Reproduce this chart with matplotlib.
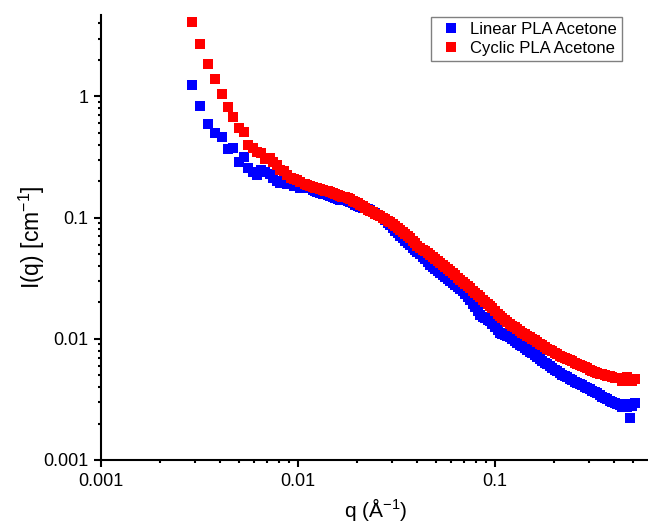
import matplotlib
matplotlib.use("Agg")
import matplotlib.pyplot as plt
from matplotlib.ticker import LogLocator, NullFormatter, FixedLocator, FixedFormatter

plt.rcParams['font.family'] = ['Liberation Sans', 'DejaVu Sans']
plt.rcParams['mathtext.default'] = 'regular'

# scattering vector q (1/Angstrom), shared by both samples
q = [0.002897, 0.003181, 0.003494, 0.003778, 0.004114, 0.004413, 0.004662, 0.005018,
     0.005301, 0.005575, 0.005910, 0.006229, 0.006527, 0.006800, 0.007167, 0.007423,
     0.007797, 0.008103, 0.008442, 0.008795, 0.009162, 0.009489, 0.009884, 0.010237,
     0.01085, 0.01117, 0.01151, 0.01185, 0.01220, 0.01256, 0.01294, 0.01332, 0.01371, 0.01412,
     0.01454, 0.01497, 0.01541, 0.01587, 0.01634, 0.01682, 0.01733, 0.01784, 0.01837, 0.01892,
     0.01947, 0.02005, 0.02065, 0.02126, 0.02189, 0.02254, 0.02321, 0.02390, 0.02460, 0.02533,
     0.02608, 0.02685, 0.02765, 0.02847, 0.02932, 0.03019, 0.03108, 0.03200, 0.03295, 0.03393,
     0.03493, 0.03597, 0.03704, 0.03814, 0.03926, 0.04042, 0.04163, 0.04286, 0.04413, 0.04544,
     0.04679, 0.04818, 0.04960, 0.05107, 0.05259, 0.05415, 0.05575, 0.05740, 0.05911, 0.06086,
     0.06266, 0.06452, 0.06643, 0.06840, 0.07043, 0.07252, 0.07467, 0.07688, 0.07916, 0.08151,
     0.08392, 0.08641, 0.08897, 0.09161, 0.09432, 0.09712, 0.10000, 0.10297, 0.10602, 0.10916,
     0.11240, 0.11573, 0.11916, 0.12269, 0.12633, 0.13008, 0.13394, 0.13791, 0.14200, 0.14621,
     0.15054, 0.15500, 0.15960, 0.16433, 0.16921, 0.17423, 0.17939, 0.18471, 0.19019, 0.19583,
     0.20163, 0.20761, 0.21377, 0.22011, 0.22663, 0.23335, 0.24027, 0.24739, 0.25473, 0.26228,
     0.27006, 0.27807, 0.28631, 0.29480, 0.30354, 0.31254, 0.32181, 0.33135, 0.34117, 0.35129,
     0.36171, 0.37243, 0.38347, 0.39484, 0.40655, 0.41860, 0.43102, 0.44380, 0.45696, 0.47051,
     0.48446, 0.49882, 0.51361]

# I(q) (1/cm), linear PLA in acetone
I_linear = [1.25, 0.838, 0.596, 0.503, 0.460, 0.368, 0.378, 0.286,
            0.319, 0.259, 0.238, 0.223, 0.246, 0.237, 0.229, 0.211,
            0.202, 0.194, 0.199, 0.191, 0.188, 0.184, 0.181, 0.177,
            0.176, 0.175, 0.174, 0.170, 0.167, 0.163, 0.160, 0.158, 0.157, 0.154,
            0.152, 0.148, 0.145, 0.143, 0.141, 0.140, 0.139, 0.137, 0.135, 0.131,
            0.127, 0.124, 0.122, 0.120, 0.119, 0.117, 0.115, 0.112, 0.109, 0.106,
            0.104, 0.0995, 0.0948, 0.0905, 0.0863, 0.0819, 0.0777, 0.0741, 0.0707, 0.0674,
            0.0643, 0.0616, 0.0590, 0.0563, 0.0537, 0.0517, 0.0498, 0.0475, 0.0453, 0.0431,
            0.0410, 0.0392, 0.0375, 0.0361, 0.0347, 0.0334, 0.0322, 0.0311, 0.0300, 0.0289,
            0.0279, 0.0269, 0.0259, 0.0246, 0.0233, 0.0221, 0.0209, 0.0195, 0.0182, 0.0169,
            0.0157, 0.0152, 0.0148, 0.0144, 0.0140, 0.0132, 0.0125, 0.0118, 0.0112, 0.0110,
            0.0108, 0.0106, 0.0104, 0.0100, 0.00966, 0.00930, 0.00896, 0.00866, 0.00838, 0.00810,
            0.00784, 0.00758, 0.00734, 0.00707, 0.00681, 0.00659, 0.00637, 0.00616, 0.00596, 0.00577,
            0.00558, 0.00540, 0.00522, 0.00507, 0.00493, 0.00481, 0.00470, 0.00457, 0.00444, 0.00434,
            0.00424, 0.00412, 0.00400, 0.00391, 0.00382, 0.00373, 0.00364, 0.00354, 0.00344, 0.00334,
            0.00325, 0.00316, 0.00307, 0.00301, 0.00296, 0.00290, 0.00285, 0.00275, 0.00290, 0.00272,
            0.00223, 0.00280, 0.00295]

# I(q) (1/cm), cyclic PLA in acetone
I_cyclic = [4.12, 2.72, 1.86, 1.40, 1.05, 0.823, 0.681, 0.553,
            0.506, 0.400, 0.378, 0.346, 0.344, 0.307, 0.310, 0.290,
            0.273, 0.247, 0.242, 0.225, 0.214, 0.209, 0.204, 0.197,
            0.189, 0.186, 0.182, 0.179, 0.177, 0.175, 0.172, 0.170, 0.167, 0.165,
            0.163, 0.160, 0.157, 0.153, 0.150, 0.149, 0.147, 0.145, 0.142, 0.138,
            0.135, 0.131, 0.128, 0.124, 0.120, 0.116, 0.113, 0.111, 0.108, 0.105,
            0.103, 0.100, 0.0976, 0.0946, 0.0918, 0.0886, 0.0854, 0.0824, 0.0795, 0.0764,
            0.0734, 0.0703, 0.0674, 0.0642, 0.0613, 0.0588, 0.0565, 0.0545, 0.0527, 0.0511,
            0.0495, 0.0476, 0.0457, 0.0438, 0.0420, 0.0404, 0.0389, 0.0376, 0.0363, 0.0348,
            0.0334, 0.0320, 0.0306, 0.0294, 0.0282, 0.0271, 0.0261, 0.0250, 0.0240, 0.0230,
            0.0220, 0.0211, 0.0202, 0.0195, 0.0187, 0.0178, 0.0169, 0.0161, 0.0154, 0.0148,
            0.0143, 0.0137, 0.0132, 0.0128, 0.0124, 0.0120, 0.0116, 0.0112, 0.0109, 0.0106,
            0.0103, 0.0100, 0.00976, 0.00944, 0.00913, 0.00883, 0.00854, 0.00830, 0.00807, 0.00788,
            0.00770, 0.00748, 0.00727, 0.00710, 0.00694, 0.00681, 0.00668, 0.00652, 0.00637, 0.00625,
            0.00613, 0.00599, 0.00585, 0.00571, 0.00558, 0.00547, 0.00537, 0.00527, 0.00517, 0.00510,
            0.00503, 0.00496, 0.00489, 0.00484, 0.00479, 0.00475, 0.00472, 0.00450, 0.00466, 0.00480,
            0.00462, 0.00445, 0.00470]

fig = plt.figure(figsize=(6.48, 5.29), dpi=100)
ax = fig.add_axes([101/648, 1 - 460/529, 546/648, 445/529])

ax.plot(q, I_linear, 's', color='#0000FF', markersize=7.2, markeredgewidth=0,
        label='Linear PLA Acetone')
ax.plot(q, I_cyclic, 's', color='#FF0000', markersize=7.2, markeredgewidth=0,
        label='Cyclic PLA Acetone')

ax.set_xscale('log')
ax.set_yscale('log')
ax.set_xlim(0.001, 0.591)
ax.set_ylim(0.001, 4.7)

ax.xaxis.set_major_locator(FixedLocator([0.001, 0.01, 0.1]))
ax.xaxis.set_major_formatter(FixedFormatter(['0.001', '0.01', '0.1']))
ax.yaxis.set_major_locator(FixedLocator([0.001, 0.01, 0.1, 1]))
ax.yaxis.set_major_formatter(FixedFormatter(['0.001', '0.01', '0.1', '1']))
for axis in (ax.xaxis, ax.yaxis):
    axis.set_minor_locator(LogLocator(base=10, subs=range(2, 10), numticks=20))
    axis.set_minor_formatter(NullFormatter())

ax.spines['top'].set_visible(False)
ax.spines['right'].set_visible(False)
for s in ('left', 'bottom'):
    ax.spines[s].set_linewidth(1.5)

ax.tick_params(which='major', direction='out', length=5, width=1.5,
               labelsize=13, pad=4)
ax.tick_params(which='minor', direction='out', length=2.5, width=1.5)

ax.set_xlabel(r'q (Å$^{-1}$)', fontsize=15)
ax.set_ylabel(r'I(q) [cm$^{-1}$]', fontsize=16.5)
ax.xaxis.set_label_coords(0.503, -0.08)
ax.yaxis.set_label_coords(-0.099, 0.5)

leg = ax.legend(loc='upper right', bbox_to_anchor=(0.954, 0.996), borderaxespad=0,
                fontsize=12, handlelength=1.8, handletextpad=0.25, borderpad=0.3,
                labelspacing=0.25, fancybox=False, framealpha=1)
leg.get_frame().set_edgecolor('#808080')
leg.get_frame().set_linewidth(1.0)

plt.savefig('out.png', dpi=100)
